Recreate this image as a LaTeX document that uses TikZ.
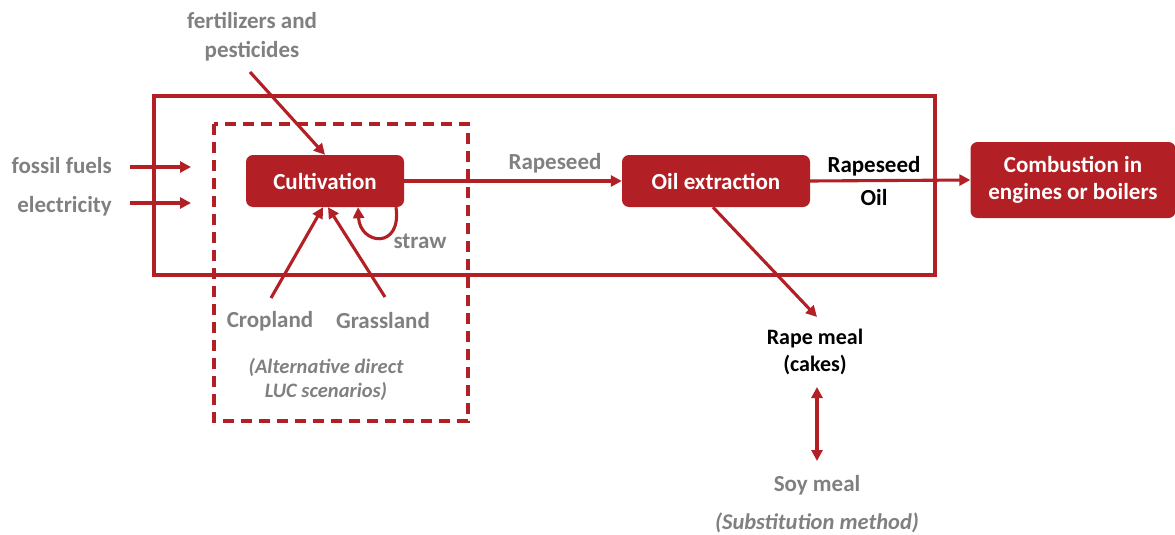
\documentclass[tikz,border=0pt]{standalone}
\usepackage{fontspec}
\setmainfont{Carlito}
\usetikzlibrary{arrows.meta}
\definecolor{rd}{RGB}{178,31,36}
\definecolor{gr}{RGB}{128,128,128}
\tikzset{
  proc/.style={fill=rd, draw=none, rounded corners=7pt, text=white, font=\bfseries\fontsize{23}{27}\selectfont, align=center},
  lbl/.style={text=gr, font=\bfseries\fontsize{23}{29}\selectfont, align=center, inner sep=0pt},
  blbl/.style={text=black, font=\bfseries\fontsize{23}{33}\selectfont, align=center, inner sep=0pt},
  ilbl/.style={text=gr, font=\bfseries\itshape\fontsize{20.5}{24}\selectfont, align=center, inner sep=0pt},
  flow/.style={draw=rd, line width=3.1pt, -{Triangle[length=11pt,width=11pt]}},
}
\begin{document}
\begin{tikzpicture}[x=1pt,y=-1pt]
\useasboundingbox (0,0) rectangle (1175,535);
% frames
\draw[rd, line width=3.1pt] (154,96) rectangle (935,275);
\draw[rd, line width=3.1pt, dash pattern=on 11pt off 7pt] (214,124) rectangle (468,421);
% process boxes
\node[proc, minimum width=158pt, minimum height=52pt] (cult) at (325,181) {Cultivation};
\node[proc, minimum width=188pt, minimum height=52pt] (oil) at (716,181) {Oil extraction};
\node[proc, minimum width=205pt, minimum height=76pt] (comb) at (1073,180) {Combustion in\\engines or boilers};
% labels
\node[lbl] (fert) at (252,37) {fertilizers and\\pesticides};
\node[lbl, anchor=east] (fossil) at (112,166) {fossil fuels};
\node[lbl, anchor=east] (elec) at (112,206) {electricity};
\node[lbl] (straw) at (420,241) {straw};
\node[lbl] (crop) at (270,321) {Cropland};
\node[lbl] (grass) at (383,321) {Grassland};
\node[ilbl] (alt) at (326,379) {(Alternative direct\\LUC scenarios)};
\node[lbl] (rs) at (555,163) {Rapeseed};
\node[blbl] (rsoil) at (874,181) {Rapeseed\\Oil};
\node[blbl, font=\bfseries\fontsize{22}{27}\selectfont] (rmeal) at (815,352) {Rape meal\\(cakes)};
\node[lbl] (soy) at (817,485) {Soy meal};
\node[ilbl, font=\bfseries\itshape\fontsize{22.5}{26}\selectfont] (subst) at (817,523) {(Substitution method)};
% coordinates
\coordinate (ff1) at (130,167);
\coordinate (ff2) at (191,167);
\coordinate (el1) at (130,203);
\coordinate (el2) at (191,203);
\coordinate (fe1) at (250,72);
\coordinate (cr1) at (271,298);
\coordinate (gr1) at (385,297);
\coordinate (rm1) at (817,317);
\coordinate (sm1) at (817,387);
\coordinate (sm2) at (817,461);
% connectors
\draw[flow] (ff1) -- (ff2);
\draw[flow] (el1) -- (el2);
\draw[flow] (fe1) -- (cult.north);
\draw[flow] (cult.east) -- (oil.west);
\draw[flow] (oil.east) -- (comb.west);
\draw[flow] (cr1) -- ([xshift=-2pt]cult.south);
\draw[flow] (gr1) -- ([xshift=3pt]cult.south);
\draw[flow] ([xshift=71pt]cult.south) .. controls (402,250) and (360,245) .. ([xshift=33pt]cult.south);
\draw[flow] ([xshift=-3pt]oil.south) -- (rm1);
\draw[flow, {Triangle[length=11pt,width=11pt]}-{Triangle[length=11pt,width=11pt]}] (sm1) -- (sm2);
\end{tikzpicture}
\end{document}
